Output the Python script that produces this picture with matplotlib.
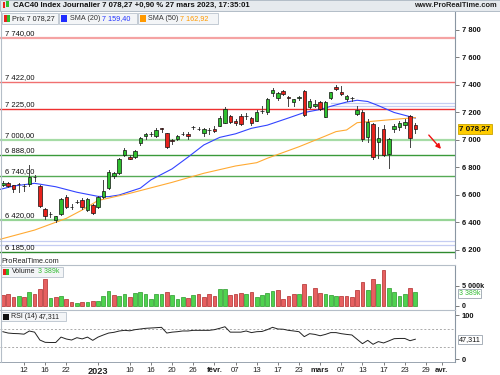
import matplotlib
matplotlib.use("Agg")
import matplotlib.pyplot as plt
from matplotlib.patches import Rectangle

plt.rcParams['font.family'] = ['Liberation Sans', 'DejaVu Sans']

# séances affichées (6 déc. 2022 -> 27 mars 2023)
dates = ['2022-12-06', '2022-12-07', '2022-12-08', '2022-12-09', '2022-12-12', '2022-12-13',
         '2022-12-14', '2022-12-15', '2022-12-16', '2022-12-19', '2022-12-20', '2022-12-21',
         '2022-12-22', '2022-12-23', '2022-12-27', '2022-12-28', '2022-12-29', '2022-12-30',
         '2023-01-02', '2023-01-03', '2023-01-04', '2023-01-05', '2023-01-06', '2023-01-09',
         '2023-01-10', '2023-01-11', '2023-01-12', '2023-01-13', '2023-01-16', '2023-01-17',
         '2023-01-18', '2023-01-19', '2023-01-20', '2023-01-23', '2023-01-24', '2023-01-25',
         '2023-01-26', '2023-01-27', '2023-01-30', '2023-01-31', '2023-02-01', '2023-02-02',
         '2023-02-03', '2023-02-06', '2023-02-07', '2023-02-08', '2023-02-09', '2023-02-10',
         '2023-02-13', '2023-02-14', '2023-02-15', '2023-02-16', '2023-02-17', '2023-02-20',
         '2023-02-21', '2023-02-22', '2023-02-23', '2023-02-24', '2023-02-27', '2023-02-28',
         '2023-03-01', '2023-03-02', '2023-03-03', '2023-03-06', '2023-03-07', '2023-03-08',
         '2023-03-09', '2023-03-10', '2023-03-13', '2023-03-14', '2023-03-15', '2023-03-16',
         '2023-03-17', '2023-03-20', '2023-03-21', '2023-03-22', '2023-03-23', '2023-03-24',
         '2023-03-27']
future_dates = ['2023-03-28', '2023-03-29', '2023-03-30', '2023-03-31', '2023-04-03']

opens = [6675, 6685, 6670, 6680, 6668, 6678, 6728, 6668, 6498, 6460, 6418, 6462,
         6583, 6510, 6548, 6564, 6491, 6527, 6515, 6583, 6649, 6740, 6758, 6891,
         6879, 6879, 6976, 7030, 7040, 7031, 7085, 7048, 6998, 7009, 7046, 7046,
         7092, 7082, 7049, 7075, 7082, 7104, 7126, 7175, 7140, 7175, 7175, 7160,
         7140, 7213, 7201, 7340, 7303, 7354, 7310, 7276, 7308, 7354, 7238, 7250,
         7274, 7170, 7308, 7383, 7349, 7300, 7303, 7187, 7206, 7024, 7114, 6983,
         7080, 6898, 7080, 7091, 7112, 7174, 7112]
highs = [6700, 6695, 6675, 6690, 6680, 6818, 6745, 6672, 6505, 6475, 6450, 6580,
         6600, 6535, 6560, 6575, 6580, 6535, 6590, 6709, 6785, 6770, 6870, 6945,
         6890, 6925, 7025, 7050, 7055, 7085, 7090, 7050, 7010, 7035, 7060, 7055,
         7105, 7095, 7085, 7085, 7100, 7175, 7240, 7180, 7150, 7190, 7195, 7170,
         7215, 7250, 7305, 7375, 7350, 7360, 7320, 7300, 7320, 7360, 7295, 7290,
         7285, 7280, 7350, 7400, 7395, 7325, 7315, 7247, 7215, 7150, 7125, 7097,
         7110, 7015, 7115, 7140, 7150, 7185, 7125]
lows = [6665, 6655, 6620, 6625, 6630, 6665, 6700, 6515, 6425, 6440, 6400, 6455,
        6505, 6500, 6540, 6500, 6485, 6460, 6505, 6575, 6640, 6725, 6750, 6880,
        6860, 6870, 6965, 7010, 7030, 7025, 7060, 6940, 6970, 7000, 7035, 7010,
        7080, 7070, 7030, 7045, 7055, 7100, 7120, 7120, 7110, 7110, 7150, 7110,
        7135, 7195, 7190, 7320, 7290, 7330, 7245, 7245, 7290, 7175, 7230, 7240,
        7220, 7165, 7300, 7360, 7330, 7285, 7285, 7180, 6990, 6985, 6865, 6867,
        6880, 6794, 7060, 7075, 7090, 6950, 7050]
closes = [6690, 6666, 6646, 6683, 6665, 6733, 6731, 6520, 6447, 6463, 6447, 6573,
          6515, 6513, 6551, 6515, 6569, 6471, 6583, 6629, 6770, 6758, 6862, 6927,
          6864, 6920, 7017, 7041, 7042, 7073, 7079, 6947, 6995, 7029, 7046, 7031,
          7092, 7082, 7078, 7076, 7068, 7158, 7225, 7129, 7121, 7114, 7176, 7121,
          7201, 7214, 7298, 7361, 7344, 7334, 7308, 7296, 7310, 7180, 7286, 7262,
          7228, 7276, 7349, 7369, 7334, 7320, 7304, 7218, 7005, 7133, 6879, 7017,
          6891, 7005, 7104, 7126, 7133, 7012, 7078.27]
volumes_k = [2540, 2790, 2125, 2375, 2125, 3375, 2790, 4210, 6625, 1790, 2125, 2290,
             1625, 875, 540, 790, 790, 1125, 1125, 2375, 3625, 2540, 2375, 2875,
             2125, 3125, 3290, 2875, 1625, 2960, 2875, 3375, 2540, 1710, 2040, 1790,
             2540, 2960, 2125, 2960, 2375, 4210, 4210, 2625, 2875, 3125, 2960, 3290,
             2040, 2540, 3040, 3710, 3790, 1540, 2460, 2790, 2790, 5290, 2460, 4290,
             3040, 2790, 2625, 2290, 2290, 2290, 2125, 3875, 5790, 3875, 6625, 5375,
             8875, 4460, 3290, 2375, 2790, 4290, 3389]
rsi = [64, 61, 60, 59.6, 58.5, 65.5, 63, 45.5, 40.4, 40, 40, 52,
       47.8, 45.5, 50.7, 48, 52, 44.8, 52, 56.7, 61, 62.6, 65.5, 67,
       66, 68.5, 70, 71.5, 72.2, 72.9, 73.7, 61, 63, 64, 65.6, 65.6,
       67, 67, 67, 67, 68.5, 71.5, 75, 63, 63, 63, 65.6, 62,
       64, 64.5, 68.5, 73.7, 70, 69.5, 67, 65.6, 64, 53, 59.6, 58,
       55, 58, 62, 62, 59.6, 58, 56.7, 47, 37.4, 44.8, 36, 42,
       39, 43.6, 48.5, 49, 49, 44, 47.311]

# moyennes mobiles (position de séance, valeur)
sma20_pos = [-0.5, 2, 6, 10, 14, 18, 20, 22, 26, 28, 30, 32, 35, 38, 41, 44, 47, 50,
             54, 57, 60, 62, 65, 67, 69, 71, 74, 78]
sma20_val = [6641, 6665, 6685, 6660, 6620, 6590, 6588, 6600, 6650, 6710, 6750, 6790,
             6875, 6964, 7019, 7045, 7085, 7108, 7160, 7200, 7222, 7245, 7276, 7289,
             7280, 7250, 7200, 7159.4]
sma50_pos = [-0.5, 6, 12, 15, 18, 24, 32, 38, 44, 48, 50, 56, 61, 63, 65, 67, 71, 74, 78]
sma50_val = [6278, 6345, 6430, 6491, 6560, 6612, 6692, 6758, 6811, 6835, 6867, 6951,
             7029, 7061, 7073, 7126, 7140, 7150, 7162.92]

# niveaux horizontaux tracés sur le graphique
levels = [7740, 7422, 7225, 7000, 6888, 6740, 6420, 6185]
level_labels = ['7 740,00', '7 422,00', '7 225,00', '7 000,00', '6 888,00',
                '6 740,00', '6 420,00', '6 185,00']
level_colors = ['#f5a3a3', '#f07070', '#ee3030', '#a6dca6', '#3a9a3a', '#55aa55',
                '#96d496', '#2f8a2f']
level_widths = [1.6, 1.0, 1.0, 1.6, 1.0, 1.0, 1.6, 1.0]
blue_levels_full = [6266, 6236]
blue_levels_right = [7267, 7247]

price_ticks = [6200, 6400, 6600, 6800, 7000, 7200, 7400, 7600, 7800]
date_ticks = ['2022-12-12', '2022-12-16', '2022-12-22', '2023-01-02', '2023-01-10',
              '2023-01-16', '2023-01-20', '2023-01-26', '2023-02-01', '2023-02-07',
              '2023-02-13', '2023-02-17', '2023-02-23', '2023-03-01', '2023-03-07',
              '2023-03-13', '2023-03-17', '2023-03-23', '2023-03-29', '2023-04-03']
date_labels = ['12', '16', '22', '2023', '10', '16', '20', '26', 'févr.', '07',
               '13', '17', '23', 'mars', '07', '13', '17', '23', '29', 'avr.']
bold_labels = ['2023', 'févr.', 'mars', 'avr.']

W, H = 500.0, 375.0


def fx(px):
    return px / W


def fy(py):
    return 1 - py / H


fig = plt.figure(figsize=(5, 3.75), dpi=100)
fig.patch.set_facecolor('white')

AX_RIGHT = 455
ax_p = fig.add_axes([0, fy(258), fx(AX_RIGHT), (258 - 12) / H])
ax_v = fig.add_axes([0, fy(309.5), fx(AX_RIGHT), (309.5 - 265) / H])
ax_r = fig.add_axes([0, fy(362), fx(AX_RIGHT), (362 - 309.5) / H])

all_days = dates + future_dates
xmin, xmax = -0.54, 85.5
n = len(dates)
idx = list(range(n))

for ax in (ax_p, ax_v, ax_r):
    ax.set_xlim(xmin, xmax)
    ax.set_facecolor('white')
    for s in ('top', 'left', 'bottom'):
        ax.spines[s].set_visible(False)
    ax.spines['right'].set_color('#8a96a3')
    ax.spines['right'].set_linewidth(0.8)
    ax.yaxis.tick_right()
    ax.tick_params(axis='y', length=3, width=0.6, color='#666666', pad=2,
                   labelsize=5.4, labelcolor='#111111')
    ax.set_xticks([])

# ---- prix ----
ax_p.set_ylim(6141.8, 7930.9)
for lv, col, lw in zip(levels, level_colors, level_widths):
    ax_p.axhline(lv, color=col, lw=lw, zorder=1)
for lv in blue_levels_full:
    ax_p.axhline(lv, color='#c5cdf2', lw=0.9, zorder=1)
for lv in blue_levels_right:
    ax_p.plot([62, xmax], [lv, lv], color='#c5cdf2', lw=0.9, zorder=1)
for lv, lab in zip(levels, level_labels):
    ax_p.text(0.5, lv + 8, lab, fontsize=5.5, color='#111111', va='bottom', ha='left')

ax_p.plot(sma20_pos, sma20_val, color='#3344ff', lw=0.8, zorder=2)
ax_p.plot(sma50_pos, sma50_val, color='#ffaa33', lw=0.8, zorder=2)

for i, o, h, l, c in zip(idx, opens, highs, lows, closes):
    ax_p.plot([i, i], [l, h], color='#444444', lw=0.7, zorder=3)
    col = '#2fbf2f' if c >= o else '#e8221c'
    body = abs(c - o)
    ax_p.bar(i, body, bottom=min(o, c), width=0.66, color=col, edgecolor='#111111',
             linewidth=0.5, zorder=4)

ax_p.set_yticks(price_ticks)
ax_p.set_yticklabels([f'{t // 1000} {t % 1000:03d}' for t in price_ticks],
                     fontweight='bold')

ax_p.annotate('7 078,27', xy=(1.0, closes[-1]), xycoords=('axes fraction', 'data'),
              xytext=(3, 0), textcoords='offset points', ha='left', va='center',
              fontsize=5.8, fontweight='bold', color='#111111',
              bbox=dict(boxstyle='square,pad=0.2', fc='#ffcc00', ec='#c9a400', lw=0.6))
ax_p.annotate('', xy=(83.2, 6920), xytext=(80.2, 7051),
              arrowprops=dict(arrowstyle='-|>', color='#ee1111', lw=1.0,
                              mutation_scale=7))

# ---- volume ----
ax_v.set_ylim(-1000, 10125)
vol_cols = []
for i in idx:
    up = i > 0 and closes[i] >= closes[i - 1]
    vol_cols.append(('#4fd24f', '#2a9a2a') if up else ('#e66060', '#b02a2a'))
ax_v.bar(idx, volumes_k, width=0.7, color=[c[0] for c in vol_cols],
         edgecolor=[c[1] for c in vol_cols], linewidth=0.5)
ax_v.set_yticks([0, 5000])
ax_v.set_yticklabels(['0', '5 000k'], fontweight='bold')
ax_v.tick_params(axis='y', labelsize=5.1)
ax_v.annotate('3 389k', xy=(1.0, volumes_k[-1]), xycoords=('axes fraction', 'data'),
              xytext=(3, -1), textcoords='offset points', ha='left', va='center',
              fontsize=5.0, color='#33bb33',
              bbox=dict(boxstyle='square,pad=0.12', fc='white', ec='#9aa4ae', lw=0.6))

# ---- RSI ----
ax_r.set_ylim(-3.3, 113.3)
ax_r.axhline(70, color='#aaaaaa', lw=0.7, ls=(0, (2, 2)))
ax_r.axhline(30, color='#aaaaaa', lw=0.7, ls=(0, (2, 2)))
ax_r.plot(idx, rsi, color='#222222', lw=0.7)
ax_r.set_yticks([3, 100])
ax_r.set_yticklabels(['0', '100'], fontweight='bold')
ax_r.annotate('47,311', xy=(1.0, rsi[-1]), xycoords=('axes fraction', 'data'),
              xytext=(3, 0), textcoords='offset points', ha='left', va='center',
              fontsize=5.2, color='#111111',
              bbox=dict(boxstyle='square,pad=0.15', fc='white', ec='#9aa4ae', lw=0.6))

# axe des dates
tick_pos = [all_days.index(d) for d in date_ticks]
ax_r.set_xticks(tick_pos)
ax_r.set_xticklabels(date_labels)
ax_r.tick_params(axis='x', length=2, width=0.6, color='#666666', pad=1.5,
                 labelsize=5.6, labelcolor='#222222')
for t in ax_r.get_xticklabels():
    if t.get_text() in bold_labels:
        t.set_fontweight('bold')
        if t.get_text() == '2023':
            t.set_fontsize(6.6)
ax_r.spines['bottom'].set_visible(True)
ax_r.spines['bottom'].set_color('#8a96a3')
ax_r.spines['bottom'].set_linewidth(0.6)

# séparateurs de panneaux
for py in (265, 309.5):
    fig.add_artist(plt.Line2D([0, fx(AX_RIGHT)], [fy(py), fy(py)], color='#b5bec8',
                              lw=0.8, transform=fig.transFigure))
fig.add_artist(plt.Line2D([fx(0.5), fx(0.5)], [fy(362), fy(12)], color='#b5bec8',
                          lw=0.8, transform=fig.transFigure))


# ---- en-têtes ----
def box(x0, y0, x1, y1, fc='#f3f5f7', ec='#b9c3cd'):
    fig.add_artist(Rectangle((fx(x0), fy(y1)), fx(x1 - x0), (y1 - y0) / H,
                             transform=fig.transFigure, fc=fc, ec=ec, lw=0.6))


def ftext(x, y, s, **kw):
    fig.text(fx(x), fy(y), s, va='center', ha='left', **kw)


box(0, 0, 500, 11, fc='#e6eaee', ec='#a8b4c0')
box(2.5, 2, 5, 8, fc='#e8221c', ec='none')
box(6, 1, 8.5, 7, fc='#2fbf2f', ec='none')
ftext(13, 5.8, 'CAC40 Index Journalier 7 078,27 +0,90 % 27 mars 2023, 17:35:01',
      fontsize=5.6, fontweight='bold', color='#111111')
fig.text(fx(497), fy(5.8), 'www.ProRealTime.com', va='center', ha='right',
         fontsize=5.4, fontweight='bold', color='#222222')

box(1.5, 13.3, 58, 23.5)
box(3.5, 15.5, 6.5, 21.5, fc='#e8221c', ec='none')
box(6.5, 15.5, 9.5, 21.5, fc='#2fbf2f', ec='none')
ftext(12, 18.5, 'Prix 7 078,27', fontsize=5.2, color='#222222')
box(59, 13.3, 137, 23.5)
box(61, 15.5, 67, 21.5, fc='#1f2cff', ec='none')
ftext(70, 18.5, 'SMA (20)', fontsize=5.2, color='#333333')
ftext(101.5, 18.5, '7 159,40', fontsize=5.2, color='#2233ff')
box(138, 13.3, 218, 23.5)
box(140, 15.5, 146, 21.5, fc='#ff9900', ec='none')
ftext(148.5, 18.5, 'SMA (50)', fontsize=5.2, color='#333333')
ftext(180, 18.5, '7 162,92', fontsize=5.2, color='#ff9900')

ftext(1.5, 261.5, 'ProRealTime.com', fontsize=5.2, color='#222222')
box(1, 266.5, 63, 276.5)
box(3, 268.5, 6, 274.5, fc='#e8221c', ec='none')
box(6, 268.5, 9, 274.5, fc='#2fbf2f', ec='none')
ftext(11.5, 271.5, 'Volume', fontsize=5.0, color='#222222')
ftext(38.5, 271.5, '3 389k', fontsize=5.0, color='#33bb33')

box(1, 311.5, 66, 321)
box(3, 313.5, 9, 319.5, fc='#111111', ec='none')
ftext(11, 316.3, 'RSI (14)', fontsize=5.0, color='#222222')
ftext(39, 316.3, '47,311', fontsize=5.0, color='#222222')

fig.savefig('out.png', dpi=100)
